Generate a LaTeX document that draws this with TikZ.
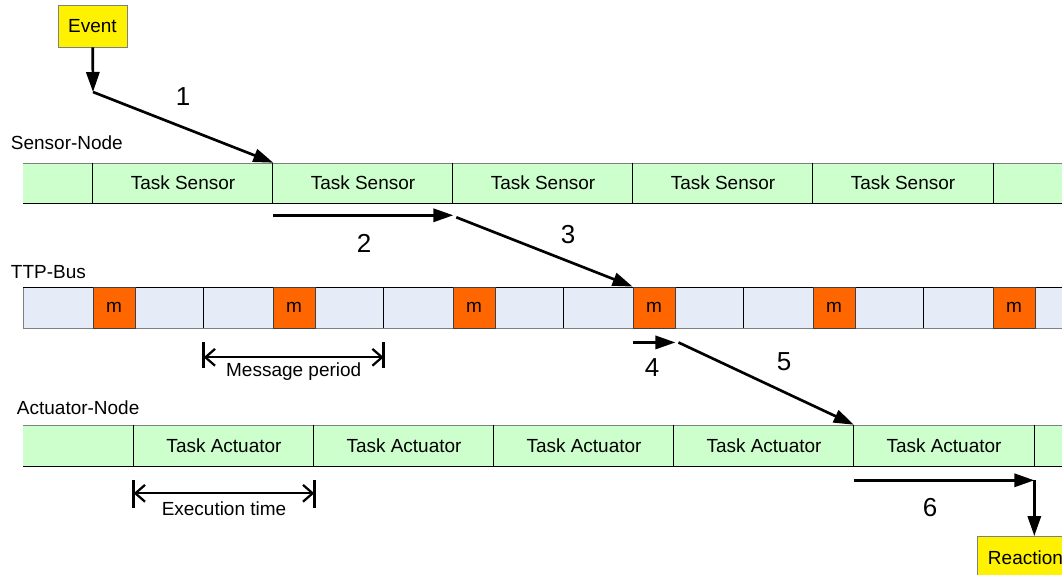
\documentclass[tikz,border=0pt]{standalone}
\usepackage{fontspec}
\setmainfont{Liberation Sans}
\usetikzlibrary{positioning,arrows.meta,calc}

\definecolor{sensorgreen}{HTML}{CCFFCC}
\definecolor{busblue}{HTML}{E6ECF7}
\definecolor{msgorange}{HTML}{FF6600}
\definecolor{edgegray}{HTML}{808080}

\tikzset{
  txt/.style={font=\fontsize{13.5}{16}\selectfont},
  num/.style={font=\fontsize{18.5}{22}\selectfont},
  cell/.style={txt, minimum width=4.5cm, minimum height=1cm, inner sep=0pt},
  msg/.style={txt, fill=msgorange, draw=black!75, line width=0.6pt,
    minimum width=1.05cm, minimum height=1.025cm, inner sep=0pt},
  gap/.style={minimum width=1.725cm, minimum height=1.025cm, inner sep=0pt},
  sig/.style={txt, fill=yellow, draw=edgegray, line width=0.6pt,
    inner sep=0pt, minimum height=1.05cm},
  flow/.style={line width=1.9pt, -{Triangle[length=0.5cm,width=0.33cm]}},
  span/.style={line width=1.6pt,
    {Straight Barb[length=0.24cm,width=0.42cm]}-{Straight Barb[length=0.24cm,width=0.42cm]}},
  bar/.style={line width=2pt},
  sep/.style={line width=0.7pt},
}

\begin{document}
\begin{tikzpicture}[x=0.025cm,y=-0.025cm]
  \useasboundingbox (0,0) rectangle (1062,574);

  % row labels
  \node[txt, anchor=west] (sensorlbl) at (6,143) {Sensor-Node};
  \node[txt, anchor=west] (buslbl) at (6,272) {TTP-Bus};
  \node[txt, anchor=west] (actlbl) at (12,408) {Actuator-Node};

  % sensor row
  \fill[sensorgreen] (23,163) rectangle (1070,203);
  \draw[sep, edgegray] (23,163) -- (1070,163);
  \draw[sep] (23,203) -- (1070,203);
  \foreach \i in {1,...,5}
    \node[cell] (s\i) at ({183+180*(\i-1)},183) {Task Sensor};
  \foreach \i in {1,...,5}
    \draw[sep] (s\i.north west) -- (s\i.south west);
  \draw[sep] (s5.north east) -- (s5.south east);

  % bus row
  \fill[busblue] (23,287) rectangle (1070,328);
  \draw[sep, edgegray] (23,287) -- (23,328);
  \draw[sep] (23,287) -- (1070,287);
  \draw[sep, edgegray] (23,328) -- (1070,328);
  \foreach \i in {1,...,6} {
    \node[msg] (m\i) at ({114+180*(\i-1)},307.5) {m};
    \node[gap] (p\i) at ({169.5+180*(\i-1)},307.5) {};
    \node[gap] (q\i) at ({238.5+180*(\i-1)},307.5) {};
    \draw[sep] (q\i.north west) -- (q\i.south west);
  }

  % actuator row
  \fill[sensorgreen] (23,425) rectangle (1070,466);
  \draw[sep, edgegray] (23,425) -- (1070,425);
  \draw[sep] (23,466) -- (1070,466);
  \foreach \i in {1,...,5}
    \node[cell, minimum height=1.025cm] (a\i) at ({224+180*(\i-1)},445.5) {Task Actuator};
  \foreach \i in {1,...,5}
    \draw[sep] (a\i.north west) -- (a\i.south west);
  \draw[sep] (a5.north east) -- (a5.south east);

  % event and reaction
  \node[sig, minimum width=1.725cm] (event) at (92.5,26) {Event};
  \node[sig, minimum width=2.4cm, anchor=north west] (reaction) at (977,536) {Reaction};

  % chain of delays
  \coordinate (hit) at (93,92);
  \draw[flow] (event) -- (hit);
  \draw[flow] (hit) -- (s1.north east);
  \draw[flow] ([yshift=-0.3cm]s1.south east) -- ([yshift=-0.3cm]s2.south east);
  \draw[flow] ([shift={(0.075cm,-0.35cm)}]s2.south east) -- (m4.north west);
  \draw[flow] ([yshift=-0.35cm]m4.south west) -- ([yshift=-0.35cm]m4.south east);
  \draw[flow] ([shift={(0.075cm,-0.35cm)}]m4.south east) -- (a5.north west);
  \coordinate (turn) at ([yshift=-0.35cm]a5.south east);
  \draw[flow] ([yshift=-0.35cm]a5.south west) -- (turn);
  \draw[flow] (turn) -- (turn |- reaction.north);

  \node[num] (n1) at (183,97) {1};
  \node[num] (n2) at (364,243) {2};
  \node[num] (n3) at (568,235) {3};
  \node[num] (n4) at (652,368) {4};
  \node[num] (n5) at (784,362) {5};
  \node[num] (n6) at (930,508) {6};

  % message period
  \draw[bar] ([yshift=-0.35cm]q1.south west) -- ([yshift=-1cm]q1.south west);
  \draw[bar] ([yshift=-0.35cm]q2.south west) -- ([yshift=-1cm]q2.south west);
  \coordinate (mpa) at ([yshift=-0.725cm]q1.south west);
  \coordinate (mpb) at ([yshift=-0.725cm]q2.south west);
  \draw[span] (mpa) -- (mpb) node[txt, midway, yshift=-0.36cm] (mplbl) {Message period};

  % execution time
  \draw[bar] ([yshift=-0.35cm]a1.south west) -- ([yshift=-1.05cm]a1.south west);
  \draw[bar] ([yshift=-0.35cm]a1.south east) -- ([yshift=-1.05cm]a1.south east);
  \coordinate (eta) at ([yshift=-0.675cm]a1.south west);
  \coordinate (etb) at ([yshift=-0.675cm]a1.south east);
  \draw[span] (eta) -- (etb) node[txt, midway, yshift=-0.38cm] (etlbl) {Execution time};
\end{tikzpicture}
\end{document}
